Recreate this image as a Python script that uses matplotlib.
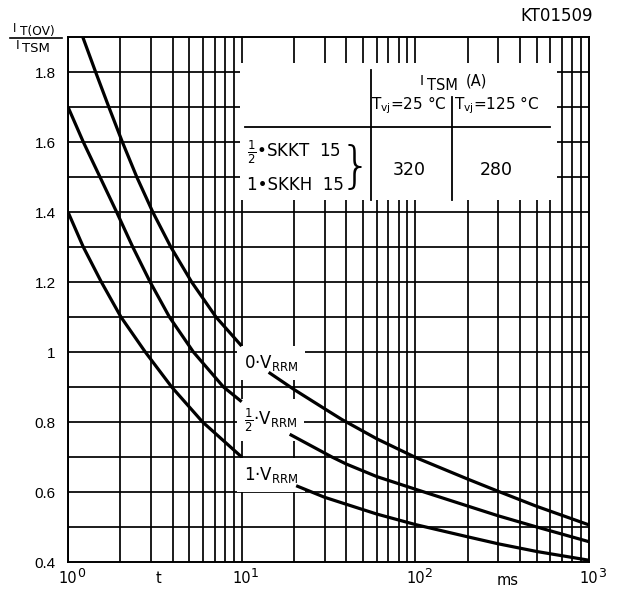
import matplotlib
matplotlib.use("Agg")
import matplotlib.pyplot as plt
import numpy as np
from matplotlib.patches import Rectangle
from matplotlib.lines import Line2D
from matplotlib.transforms import offset_copy

plt.rcParams['font.family'] = ['DejaVu Sans']
plt.rcParams['mathtext.fontset'] = 'dejavusans'
plt.rcParams['mathtext.default'] = 'regular'

# ---- data (t in ms, ratio I_T(OV)/I_TSM) ----
t0_a = [1.216, 1.442, 1.718, 2.056, 2.489, 3.076, 3.908, 5.152, 7.112, 10]
v0_a = [1.90, 1.80, 1.70, 1.60, 1.50, 1.40, 1.30, 1.20, 1.10, 1.017]
t0_b = [14.3, 20, 30, 37.8, 60, 101, 200, 300, 500, 1000]
v0_b = [0.942, 0.893, 0.838, 0.807, 0.752, 0.698, 0.637, 0.602, 0.559, 0.506]

th_a = [1.0, 1.225, 1.528, 1.905, 2.360, 2.972, 3.837, 5.272, 7.86, 10]
vh_a = [1.70, 1.60, 1.50, 1.40, 1.30, 1.20, 1.10, 1.00, 0.90, 0.858]
th_b = [18.9, 33.1, 40, 60, 100, 200, 300, 500, 1000]
vh_b = [0.765, 0.70, 0.680, 0.644, 0.608, 0.56, 0.532, 0.500, 0.458]

t1_a = [1.0, 1.225, 1.556, 2.018, 2.786, 3.954, 5.957, 10]
v1_a = [1.40, 1.30, 1.20, 1.10, 1.00, 0.90, 0.80, 0.70]
t1_b = [20.6, 30, 40, 60, 100, 200, 300, 500, 1000]
v1_b = [0.618, 0.585, 0.565, 0.537, 0.507, 0.472, 0.452, 0.430, 0.405]

curve_labels = [r"0·V$_{RRM}$", r"$\frac{1}{2}$·V$_{RRM}$", r"1·V$_{RRM}$"]
label_y = [0.969, 0.806, 0.649]
yticks = [0.4, 0.6, 0.8, 1.0, 1.2, 1.4, 1.6, 1.8]
ytick_labels = ["0.4", "0.6", "0.8", "1", "1.2", "1.4", "1.6", "1.8"]
xticks = [1, 10, 100, 1000]
xtick_exps = ["0", "1", "2", "3"]
table_rows = [r"$\frac{1}{2}$•SKKT  15", "1•SKKH  15"]
table_vals = ["320", "280"]

W, H = 617, 590
fig = plt.figure(figsize=(W/100, H/100), dpi=100)
ax = fig.add_axes([68/W, 1-562/H, 521/W, 525/H])
ax.set_xscale('log')
ax.set_xlim(1, 1000)
ax.set_ylim(0.4, 1.9)

def ptext(x, y, s, **kw):
    fig.text(x/W, 1-y/H, s, **kw)

# grid
for dec in [1, 10, 100]:
    for m in range(1, 10):
        ax.axvline(dec*m, color='black', lw=1.25, zorder=1)
for yv in np.arange(0.5, 1.85, 0.1):
    ax.axhline(yv, color='black', lw=1.25, zorder=1)

for s in ax.spines.values():
    s.set_linewidth(1.4)

ax.set_yticks(yticks)
ax.set_yticklabels(ytick_labels, fontsize=11, fontfamily='Liberation Sans')
ax.set_xticks(xticks)
ax.set_xticklabels([])
ax.xaxis.set_minor_locator(matplotlib.ticker.NullLocator())
ax.tick_params(length=0, pad=9)

tr = ax.get_xaxis_transform()
for tk, ex in zip(xticks, xtick_exps):
    ax.text(tk, -0.0305, "10", transform=tr, ha='center', va='center', fontsize=10.5)
    ax.text(tk, -0.0305, ex, transform=offset_copy(tr, fig=fig, x=6.3, y=3.6, units='points'),
            ha='left', va='center', fontsize=9)
ax.text(3.3, -0.0305, "t", transform=tr, fontsize=10.5, ha='center', va='center')
ax.text(340, -0.036, "ms", transform=tr, fontsize=10.5, ha='center', va='center')

# curves
for ta, va, tb, vb in [(t0_a, v0_a, t0_b, v0_b), (th_a, vh_a, th_b, vh_b), (t1_a, v1_a, t1_b, v1_b)]:
    ax.plot(ta, va, color='black', lw=2.3, zorder=5, solid_capstyle='butt', solid_joinstyle='round')
    ax.plot(tb, vb, color='black', lw=2.3, zorder=5, solid_capstyle='butt', solid_joinstyle='round')

for lab, yv in zip(curve_labels, label_y):
    ax.text(10.3, yv, lab, fontsize=12, ha='left', va='center', zorder=4,
            bbox=dict(facecolor='white', edgecolor='none', pad=5))

# table box
T = ax.transAxes
ax.add_patch(Rectangle((0.330, 0.690), 0.609, 0.260, transform=T, facecolor='white',
                       edgecolor='none', zorder=2))
ax.plot([0.5816, 0.5816], [0.690, 0.937], transform=T, color='black', lw=1.3, zorder=3)
ax.plot([0.737, 0.737], [0.690, 0.886], transform=T, color='black', lw=1.3, zorder=3)
ax.plot([0.340, 0.925], [0.829, 0.829], transform=T, color='black', lw=1.3, zorder=3)

ptext(420, 81, "I", fontsize=10, ha='left', va='center', zorder=4)
ptext(427, 86, "TSM", fontsize=10.5, ha='left', va='center', zorder=4)
ptext(466, 81, "(A)", fontsize=10.5, ha='left', va='center', zorder=4)
ptext(409, 105, r"T$_{vj}$=25 °C", fontsize=11, ha='center', va='center', zorder=4)
ptext(497, 105, r"T$_{vj}$=125 °C", fontsize=11, ha='center', va='center', zorder=4)
ptext(247, 152, table_rows[0], fontsize=12, ha='left', va='center', zorder=4)
ptext(247, 185, table_rows[1], fontsize=12, ha='left', va='center', zorder=4)
ptext(355, 168, "}", fontsize=36, ha='center', va='center', zorder=4, fontweight='light')
ptext(409, 170, table_vals[0], fontsize=12.5, ha='center', va='center', zorder=4)
ptext(496, 170, table_vals[1], fontsize=12.5, ha='center', va='center', zorder=4)

# y axis label (fraction)
ptext(13, 29, "I", fontsize=8.5, ha='left', va='center')
ptext(20, 32, "T(OV)", fontsize=8.8, ha='left', va='center')
fig.add_artist(Line2D([10/W, 62/W], [1-38/H, 1-38/H], color='black', lw=1.2))
ptext(16, 45.5, "I", fontsize=9, ha='left', va='center')
ptext(22, 48.5, "TSM", fontsize=9.5, ha='left', va='center')

ptext(593, 16, "KT01509", fontsize=12, ha='right', va='center')

fig.savefig("out.png", dpi=100, facecolor='white')
